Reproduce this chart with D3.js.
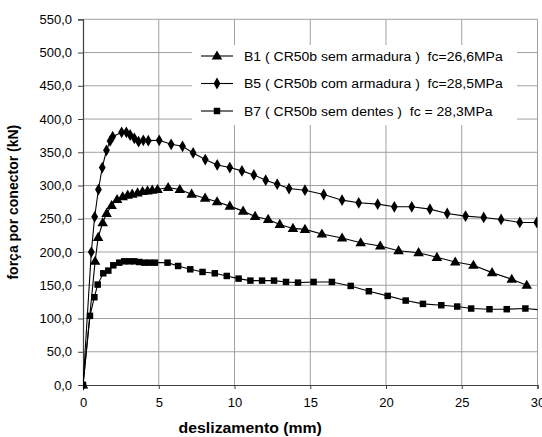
<!DOCTYPE html>
<html><head><meta charset="utf-8">
<script src="https://cdn.jsdelivr.net/npm/d3@7"></script>
<style>
html,body{margin:0;padding:0;background:#fff;}
svg{display:block;font-family:"Liberation Sans",Arial,sans-serif;}
</style></head>
<body>
<svg id="chart" width="542" height="437"></svg>
<script>
// ---- data ----
const xTicks = [0, 5, 10, 15, 20, 25, 30];
const yTicks = [0, 50, 100, 150, 200, 250, 300, 350, 400, 450, 500, 550];

const b1X = [0, 0.8, 1.0, 1.3, 1.56, 1.89, 2.25, 2.62, 2.95, 3.25, 3.6, 3.93, 4.26, 4.57, 4.92, 5.62, 6.39, 7.17, 8.06, 8.85, 9.69, 10.57, 11.36, 12.22, 12.99, 13.86, 14.65, 15.77, 17.1, 18.33, 19.62, 20.83, 22.15, 23.36, 24.57, 25.77, 27.0, 28.3, 29.29];
const b1Y = [0, 186, 222, 244, 258, 270, 279, 283, 285.5, 287, 289, 291, 292, 293, 294, 297, 294, 287, 281, 275.5, 269, 261.5, 253.5, 249, 241.5, 235.5, 234, 227, 221, 214, 209, 202, 199, 192, 185, 180, 169, 159, 150];

const b5X = [0, 0.55, 0.77, 1.02, 1.27, 1.55, 1.79, 1.96, 2.55, 2.86, 3.11, 3.39, 3.67, 3.98, 4.31, 5.03, 5.82, 6.57, 7.27, 8.07, 8.86, 9.69, 10.49, 11.28, 12.06, 12.82, 13.6, 14.65, 15.89, 17.1, 18.2, 19.45, 20.55, 21.7, 22.9, 24.04, 25.25, 26.45, 27.6, 28.83, 29.95];
const b5Y = [0, 200, 253, 294, 327, 353, 367, 373.5, 380, 380, 376, 371, 366, 368, 367.5, 368, 362, 359, 349, 339, 331, 327, 322, 316, 308, 302, 295.5, 293, 286.5, 278, 274, 272, 268, 268, 264.5, 258, 254, 252, 249, 244.5, 244.5];

const b7X = [0, 0.46, 0.75, 0.97, 1.34, 1.67, 2.0, 2.39, 2.72, 3.05, 3.38, 3.71, 4.04, 4.37, 4.75, 5.58, 6.28, 7.08, 7.89, 8.7, 9.49, 10.27, 11.05, 11.82, 12.61, 13.4, 14.19, 15.22, 16.43, 17.67, 18.87, 20.11, 21.3, 22.44, 23.65, 24.7, 25.62, 26.83, 27.97, 29.2, 30.8];
const b7Y = [0, 104, 132, 151, 168, 172, 180, 184, 186, 186, 186, 185, 184, 184, 184, 184, 179, 174, 170, 168, 164, 160, 157, 157, 157, 155, 154, 155, 155, 149, 141, 134, 127, 122, 120, 118, 115, 114, 114, 115, 112];

const seriesNames = [
  "B1 ( CR50b sem armadura )  fc=26,6MPa",
  "B5 ( CR50b com armadura )  fc=28,5MPa",
  "B7 ( CR50b sem dentes )  fc = 28,3MPa"
];
const seriesSymbols = ["triangle", "diamond", "square"];
const xTitle = "deslizamento (mm)";
const yTitle = "força por conector (kN)";

// ---- build ----
const series = [
  {name: seriesNames[2], sym: seriesSymbols[2], pts: b7X.map((x, i) => ({x, y: b7Y[i]}))},
  {name: seriesNames[1], sym: seriesSymbols[1], pts: b5X.map((x, i) => ({x, y: b5Y[i]}))},
  {name: seriesNames[0], sym: seriesSymbols[0], pts: b1X.map((x, i) => ({x, y: b1Y[i]}))}
];

const svg = d3.select("#chart");
const M = {left: 83, top: 19.3, right: 537.5, bottom: 385};
const x = d3.scaleLinear().domain([0, 30]).range([M.left, M.right]);
const y = d3.scaleLinear().domain([0, 550]).range([M.bottom, M.top]);

const symGen = {
  triangle: d3.symbol().type(d3.symbolTriangle).size(48),
  diamond: d3.symbol().type(d3.symbolDiamond).size(40),
  square: d3.symbol().type(d3.symbolSquare).size(42)
};

// stretch a text horizontally (reference glyphs are wider than Liberation Sans)
function stretch(sel, f) {
  sel.each(function () {
    const w = this.getComputedTextLength();
    d3.select(this).attr("textLength", w * f).attr("lengthAdjust", "spacingAndGlyphs");
  });
}

svg.append("defs").append("clipPath").attr("id", "clip")
  .append("rect").attr("x", M.left).attr("y", M.top - 6)
  .attr("width", M.right - M.left).attr("height", M.bottom - M.top + 12);

// gridlines
svg.append("g").selectAll("line").data(yTicks.filter(d => d > 0)).join("line")
  .attr("x1", M.left).attr("x2", M.right)
  .attr("y1", d => y(d)).attr("y2", d => y(d))
  .attr("stroke", "#a0a0a0").attr("stroke-width", 1);
svg.append("g").selectAll("line").data(xTicks.filter(d => d > 0)).join("line")
  .attr("x1", d => x(d)).attr("x2", d => x(d))
  .attr("y1", M.top).attr("y2", M.bottom)
  .attr("stroke", "#a0a0a0").attr("stroke-width", 1);

// axes
const xAxis = d3.axisBottom(x).tickValues(xTicks).tickSize(4).tickPadding(9).tickFormat(d3.format("d"));
const gx = svg.append("g").attr("transform", `translate(0,${M.bottom})`).call(xAxis);
const yAxis = d3.axisLeft(y).tickValues(yTicks).tickSize(5).tickPadding(6)
  .tickFormat(d => d3.format(".1f")(d).replace(".", ","));
const gy = svg.append("g").attr("transform", `translate(${M.left},0)`).call(yAxis);
[gx, gy].forEach(g => {
  g.select(".domain").attr("stroke", "#404040").attr("stroke-width", 1.2);
  g.selectAll(".tick line").attr("stroke", "#404040");
  g.selectAll("text").attr("font-size", 13).attr("fill", "#000")
    .attr("font-family", "'Liberation Sans', Arial, sans-serif");
});

// axis titles
svg.append("text").attr("x", (M.left + M.right) / 2 - 60).attr("y", 433)
  .attr("text-anchor", "middle").attr("font-weight", "bold").attr("font-size", 14)
  .text(xTitle).call(stretch, 1.13);
svg.append("text").attr("transform", `translate(18,${(M.top + M.bottom) / 2}) rotate(-90)`)
  .attr("text-anchor", "middle").attr("font-weight", "bold").attr("font-size", 14)
  .text(yTitle);

// legend background
const lg = svg.append("g");
lg.append("rect").attr("x", 192).attr("y", 45).attr("width", 325).attr("height", 80).attr("fill", "#fff");

// series
const line = d3.line().x(d => x(d.x)).y(d => y(d.y));
const plot = svg.append("g").attr("clip-path", "url(#clip)");
series.forEach(s => {
  plot.append("path").datum(s.pts).attr("d", line)
    .attr("fill", "none").attr("stroke", "#000").attr("stroke-width", 1.1);
  plot.append("g").selectAll("path").data(s.pts).join("path")
    .attr("transform", d => `translate(${x(d.x)},${y(d.y) + (s.sym === "triangle" ? 0.5 : 0)})`)
    .attr("d", symGen[s.sym]).attr("fill", "#000");
});

// legend entries
const legendRows = [0, 1, 2];
legendRows.forEach(i => {
  const sym = seriesSymbols[i];
  const yy = 56 + i * 27.5;
  lg.append("line").attr("x1", 201).attr("x2", 233).attr("y1", yy).attr("y2", yy)
    .attr("stroke", "#000").attr("stroke-width", 1.1);
  lg.append("path").attr("transform", `translate(217,${yy + (sym === "triangle" ? 0.5 : 0)})`)
    .attr("d", symGen[sym]).attr("fill", "#000");
  lg.append("text").attr("x", 244).attr("y", yy + 4.5).attr("font-size", 12.5)
    .style("white-space", "pre").attr("xml:space", "preserve")
    .text(seriesNames[i]).call(stretch, 1.12);
});
</script>
</body></html>
